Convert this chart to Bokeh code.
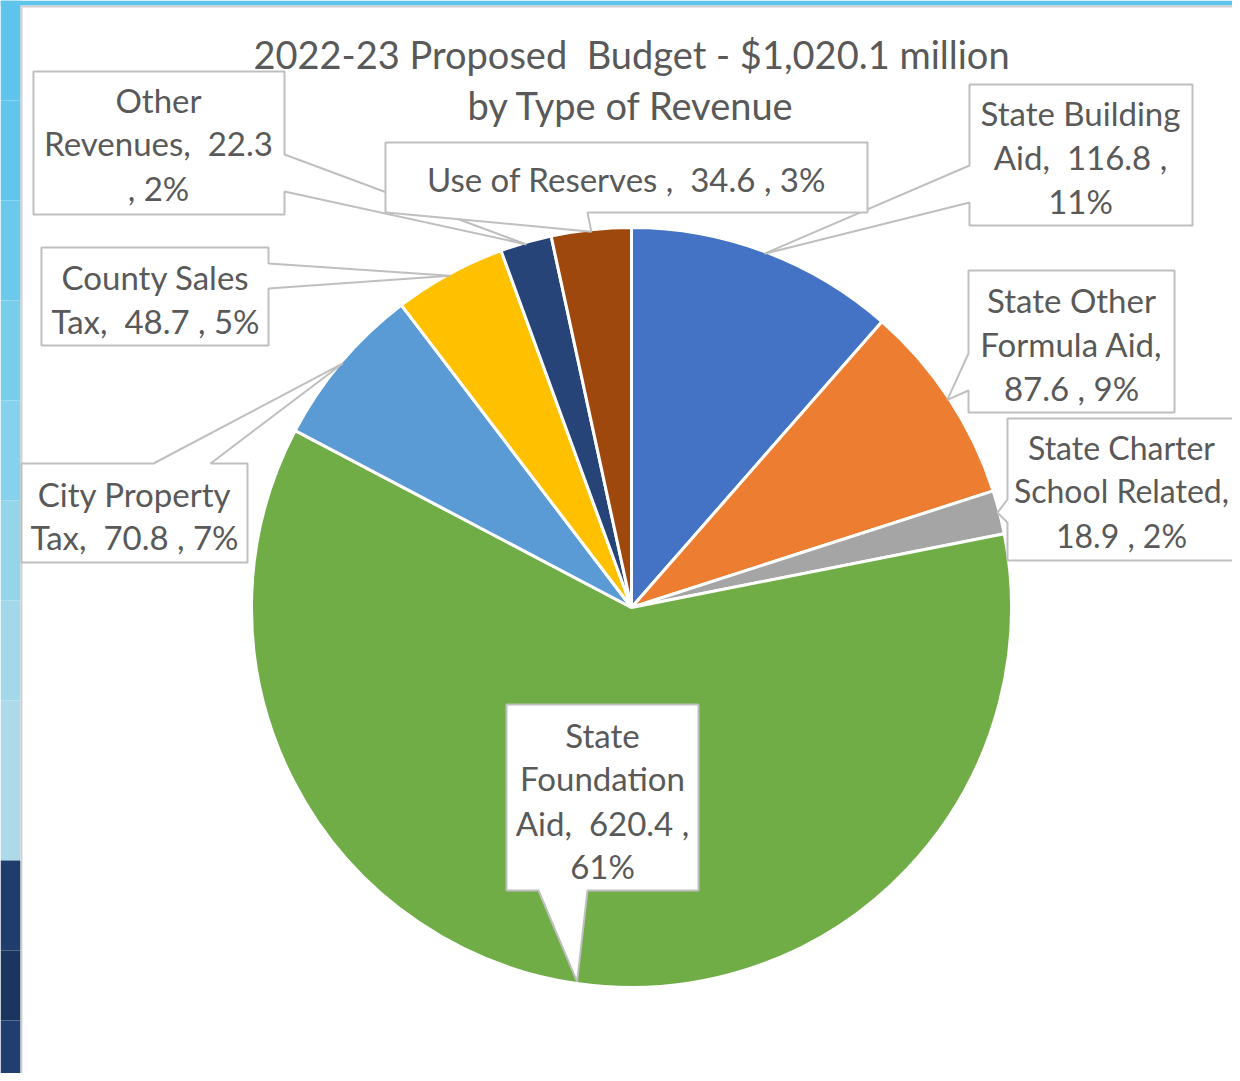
import math
from bokeh.plotting import figure
from bokeh.models import Range1d, ColumnDataSource
from bokeh.core.properties import value
from bokeh.embed import file_html
from bokeh.resources import INLINE

# ---------------- data ----------------
categories = ["State Building Aid", "State Other Formula Aid", "State Charter School Related",
              "State Foundation Aid", "City Property Tax", "County Sales Tax",
              "Other Revenues", "Use of Reserves"]
values = [116.8, 87.6, 18.9, 620.4, 70.8, 48.7, 22.3, 34.6]
colors = ["#4472C4", "#ED7D31", "#A5A5A5", "#70AD47", "#5B9BD5", "#FFC000", "#264478", "#9E480E"]
NB = "\u00a0"
title_lines = ["2022-23 Proposed" + NB + " Budget - $1,020.1 million", "by Type of Revenue"]

# label line wrapping (as in the original data labels)
label_templates = [
    ["State Building", "Aid," + NB + " {v} ,", "{p}%"],
    ["State Other", "Formula Aid,", "{v} , {p}%"],
    ["State Charter", "School Related,", "{v} , {p}%"],
    ["State", "Foundation", "Aid," + NB + " {v} ,", "{p}%"],
    ["City Property", "Tax," + NB + " {v} , {p}%"],
    ["County Sales", "Tax," + NB + " {v} , {p}%"],
    ["Other", "Revenues," + NB + " {v}", ", {p}%"],
    ["Use of Reserves ," + NB + " {v} , {p}%"],
]

# ---------------- layout (reference pixel space) ----------------
W, H = 1232, 1073
OX, OY = 0, 0
CX, CY = 631, 607        # pie centre in pixels
R = 380

def dx(x):
    return x - CX

def dy(y):
    return CY - y

# callout boxes: (x0, y0, x1, y1, tail side, base a, base b, line centres y, centre x, font px)
callouts = {
    "Other Revenues": (33, 71, 284, 214, "right", 154, 191, [99, 142, 187], 158, 33),
    "State Building Aid": (969, 84, 1192, 225, "left", 165, 202, [112, 156, 200], 1080, 33),
    "Use of Reserves": (385, 142, 867, 212, "bottom", 386, 587, [178], 626, 33),
    "State Other Formula Aid": (968, 270, 1174, 412, "left", 353, 390, [299, 343, 387], 1071, 33),
    "State Charter School Related": (1007, 418, 1252, 560, "left", 499, 522, [447, 490, 535], 1121, 32),
    "County Sales Tax": (41, 247, 268, 345, "right", 263, 288, [276, 320], 155, 33),
    "City Property Tax": (21, 463, 247, 562, "top", 153, 210, [493, 536], 134, 33),
    "State Foundation Aid": (506, 704, 698, 890, "bottom", 538, 587, [734, 777, 822, 865], 602, 33),
}
draw_order = ["Other Revenues", "State Building Aid", "Use of Reserves", "State Other Formula Aid",
              "State Charter School Related", "County Sales Tax", "City Property Tax",
              "State Foundation Aid"]

p = figure(width=W, height=H, output_backend="svg", toolbar_location=None,
           x_range=Range1d(dx(OX), dx(OX + W)), y_range=Range1d(dy(OY + H), dy(OY)),
           min_border=0, background_fill_color="white", border_fill_color="white")
p.axis.visible = False
p.grid.visible = False
p.outline_line_color = None

# slide background strip on the left / top and frame border
strip_cols = ["#5EC4EB", "#62C6EC", "#6BC9EC", "#78CDEB", "#86D1EB", "#94D5EA", "#A3D8EA",
              "#AED9E8", "#1E3C6C", "#1A365F", "#203E70"]
strip_y = [0, 100, 200, 300, 400, 500, 600, 700, 860, 950, 1020, 1081]
p.quad(left=[dx(0)] * len(strip_cols), right=[dx(20)] * len(strip_cols),
       top=[dy(y) for y in strip_y[:-1]], bottom=[dy(y) for y in strip_y[1:]],
       fill_color=strip_cols, line_color=None)
p.quad(left=[dx(0)], right=[dx(1240)], top=[dy(0)], bottom=[dy(5)],
       fill_color="#5EC4EB", line_color=None)
p.line([dx(21), dx(21), dx(1241)], [dy(6), dy(1078), dy(1078)], line_color="#D0D0D0", line_width=2)
p.line([dx(21), dx(1241)], [dy(6), dy(6)], line_color="#D0D0D0", line_width=2)

# ---------------- pie ----------------
total = sum(values)
starts, ends, mids = [], [], []
cum = 0.0
for v in values:
    a0 = cum / total * 360.0
    cum += v
    a1 = cum / total * 360.0
    starts.append(math.radians(90 - a0))
    ends.append(math.radians(90 - a1))
    mids.append((a0 + a1) / 2.0)

src = ColumnDataSource(dict(start=starts, end=ends, color=colors, name=categories))
p.wedge(x=0, y=0, radius=R, start_angle="start", end_angle="end", direction="clock",
        fill_color="color", line_color="white", line_width=3, source=src)

# ---------------- callouts ----------------
font = value("Lato")
txt_color = "#595959"
for name in draw_order:
    i = categories.index(name)
    x0, y0, x1, y1, side, a, b, ys, xc, fs = callouts[name]
    ang = math.radians(mids[i])
    tip = (math.sin(ang) * (R - 2), math.cos(ang) * (R - 2))  # data coords
    TL, TR, BR, BL = (dx(x0), dy(y0)), (dx(x1), dy(y0)), (dx(x1), dy(y1)), (dx(x0), dy(y1))
    if side == "right":
        pts = [TL, TR, (dx(x1), dy(a)), tip, (dx(x1), dy(b)), BR, BL]
    elif side == "left":
        pts = [TL, TR, BR, BL, (dx(x0), dy(b)), tip, (dx(x0), dy(a))]
    elif side == "bottom":
        pts = [TL, TR, BR, (dx(b), dy(y1)), tip, (dx(a), dy(y1)), BL]
    else:  # top
        pts = [TL, (dx(a), dy(y0)), tip, (dx(b), dy(y0)), TR, BR, BL]
    p.patch([q[0] for q in pts], [q[1] for q in pts], fill_color="white",
            line_color="#BFBFBF", line_width=2)
    pct = round(values[i] / total * 100)
    lines = [t.format(v=values[i], p=pct) for t in label_templates[i]]
    p.text(x=[dx(xc)] * len(lines), y=[dy(y) for y in ys], text=lines,
           text_font=font, text_font_size=f"{fs}px", text_color=txt_color,
           text_align="center", text_baseline="middle")

# ---------------- title ----------------
p.text(x=[dx(631), dx(631)], y=[dy(53), dy(104)], text=title_lines,
       text_font=font, text_font_size="38px", text_color=txt_color,
       text_align="center", text_baseline="middle")

open("out.html", "w").write(file_html(p, INLINE))
